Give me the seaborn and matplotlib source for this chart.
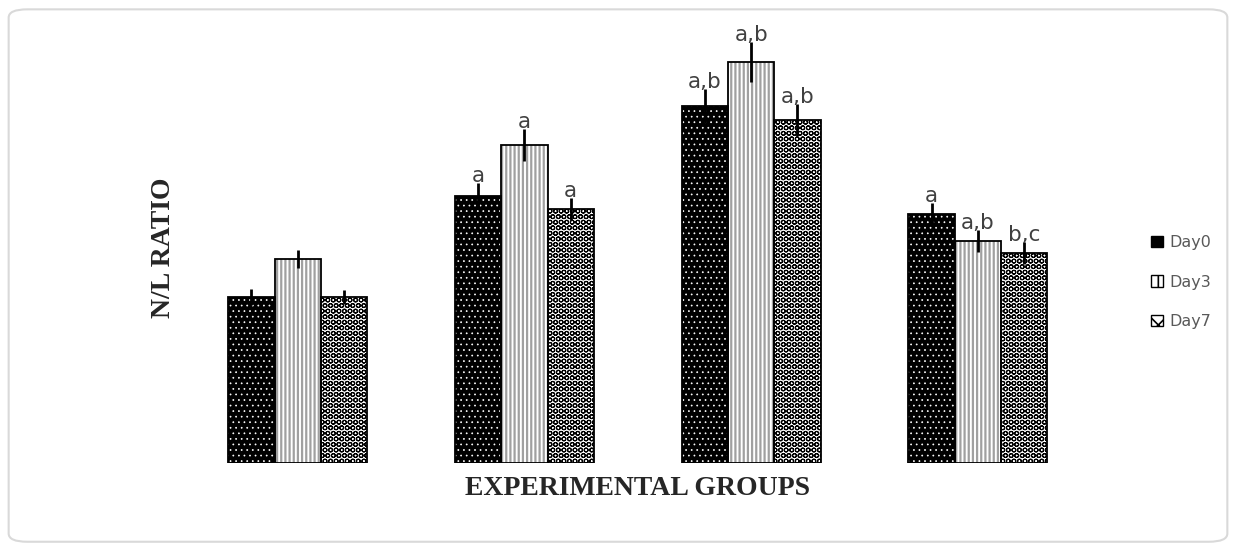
import matplotlib
matplotlib.use("Agg")
import matplotlib.pyplot as plt
from matplotlib.patches import Rectangle, Patch, FancyBboxPatch
import pandas as pd
import seaborn as sns

groups = ["Group 1", "Group 2", "Group 3", "Group 4"]
days = ["Day0", "Day3", "Day7"]
day0 = [1.66, 2.67, 3.57, 2.49]
day3 = [2.04, 3.18, 4.01, 2.22]
day7 = [1.66, 2.54, 3.43, 2.10]
err0 = [0.08, 0.13, 0.17, 0.11]
err3 = [0.09, 0.16, 0.20, 0.11]
err7 = [0.07, 0.11, 0.16, 0.11]
lab0 = ["", "a", "a,b", "a"]
lab3 = ["", "a", "a,b", "a,b"]
lab7 = ["", "a", "a,b", "b,c"]

df = pd.DataFrame({
    "group": groups * 3,
    "day": [d for d in days for _ in groups],
    "value": day0 + day3 + day7,
})

sns.set_style("white")
plt.rcParams["hatch.linewidth"] = 1.2

fig = plt.figure(figsize=(12.36, 5.5), dpi=100)
ax = fig.add_axes([0.1515, 0.158, 0.729, 0.782])

sns.barplot(data=df, x="group", y="value", hue="day", hue_order=days,
            palette=["black", "white", "white"], width=0.613, gap=0,
            errorbar=None, legend=False, saturation=1, ax=ax)

# face colour, hatch colour, hatch pattern, hatch width per day
styles = [("black", "white", "...", 0.5),
          ("white", "#a0a0a0", "||||", 1.6),
          ("white", "black", "OOO", 0.8)]
errs = [err0, err3, err7]
labs = [lab0, lab3, lab7]

for cont, (fc, hc, h, hw), ee, ll in zip(ax.containers, styles, errs, labs):
    for bar, e, lab in zip(cont, ee, ll):
        bar.set_facecolor(fc)
        bar.set_edgecolor(hc)
        bar.set_linewidth(0)
        bar.set_hatch(h)
        if hasattr(bar, "set_hatch_linewidth"):
            bar.set_hatch_linewidth(hw)
        x0, w, top = bar.get_x(), bar.get_width(), bar.get_height()
        ax.add_patch(Rectangle((x0, 0), w, top, fill=False, ec="black", lw=1.3, zorder=3))
        ax.errorbar(x0 + w / 2, top, yerr=e, color="black", lw=2, capsize=0, zorder=4)
        if lab:
            ax.text(x0 + w / 2, top + e + 0.015, lab, ha="center", va="baseline",
                    fontsize=15.5, color="#404040", zorder=5)

ax.set_ylim(0, 4.3)
ax.set_xticks([])
ax.set_yticks([])
for s in ax.spines.values():
    s.set_visible(False)

ax.set_ylabel("N/L RATIO", family="Liberation Serif", fontweight="bold", fontsize=20)
ax.yaxis.set_label_coords(-0.012, 0.5)
ax.set_xlabel("EXPERIMENTAL GROUPS", family="Liberation Serif", fontweight="bold", fontsize=20)
ax.xaxis.set_label_coords(0.5, -0.03)

handles = [Patch(facecolor="black", edgecolor="black", hatch="..."),
           Patch(facecolor="white", edgecolor="black", hatch="|"),
           Patch(facecolor="white", edgecolor="black", hatch="xx")]
fig.legend(handles, days, loc="center left", bbox_to_anchor=(1137 / 1236, 1 - 282 / 550),
           frameon=False, handlelength=0.7, handleheight=0.7, labelspacing=1.55,
           handletextpad=0.4, fontsize=11.5, labelcolor="#595959")

fig.patches.append(FancyBboxPatch((0.007, 0.015), 0.986, 0.968,
                                  boxstyle="round,pad=0,rounding_size=0.015",
                                  transform=fig.transFigure, fill=False,
                                  ec="#d9d9d9", lw=1.5))

fig.savefig("out.png", dpi=100)
